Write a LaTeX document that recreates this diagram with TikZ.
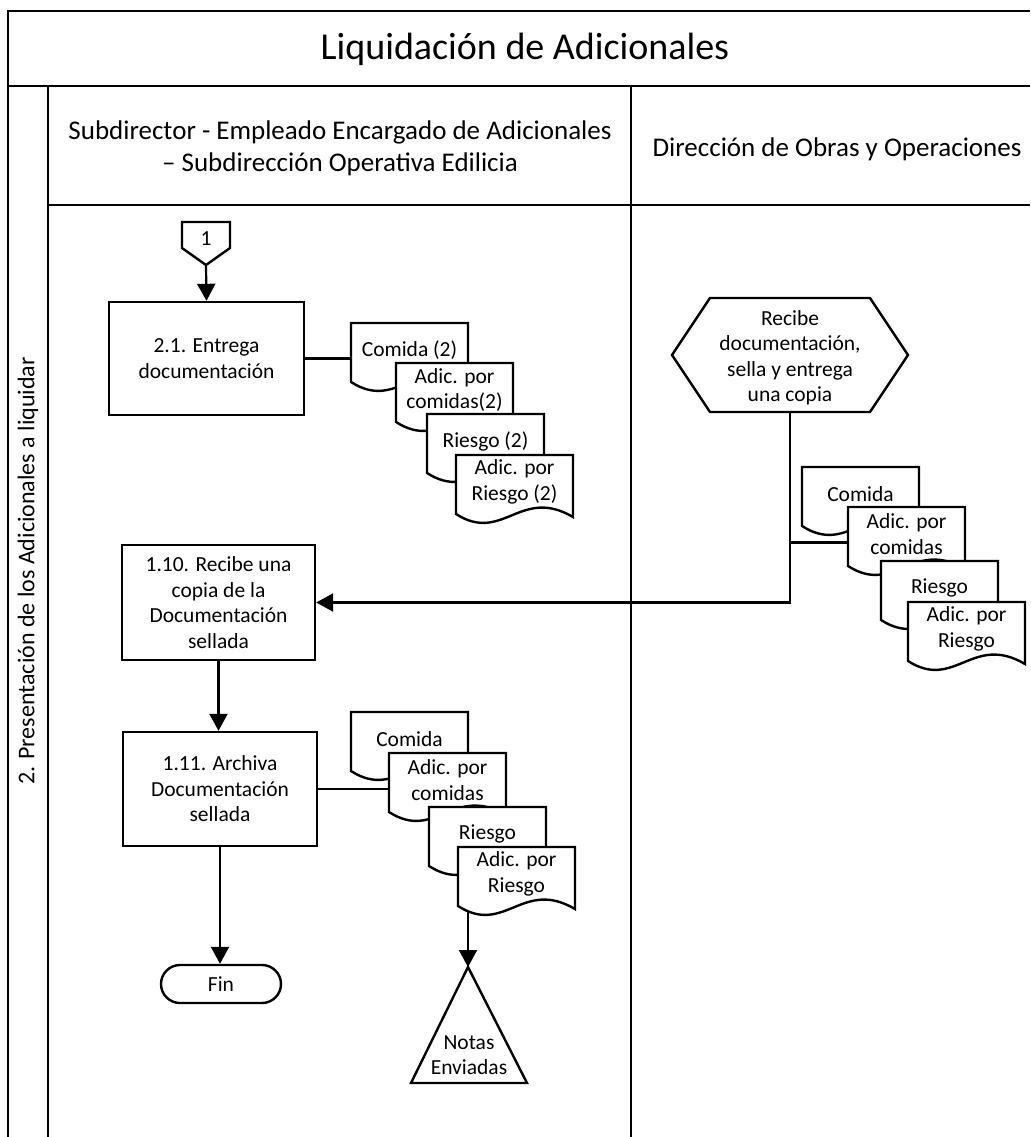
\documentclass[tikz,border=0pt]{standalone}
\usepackage{fontspec}
\setmainfont{Carlito}
\usetikzlibrary{arrows.meta,calc}
\pgfdeclarelayer{bg}
\pgfsetlayers{bg,main}

\tikzset{
  frame/.style={line width=2.6pt},
  shp/.style={draw, line width=2.4pt, fill=white},
  txt/.style={font=\fontsize{21.5}{25.5}\selectfont, align=center, inner sep=0pt},
  flow/.style={line width=2.2pt, -{Triangle[width=18pt,length=17pt]}},
  link/.style={line width=2.2pt},
  anchorbox/.style={inner sep=0pt, outer sep=0pt},
}

% document symbol: name, left x, top y, text
\newcommand{\flowdoc}[4]{%
  \node[anchorbox, minimum width=117pt, minimum height=59pt] (#1) at (#2+58.5,#3+29.5) {};
  \draw[shp] (#2,#3) -- (#2+117,#3) -- (#2+117,#3+62)
     .. controls (#2+64.35,#3+31) and (#2+46.8,#3+89) .. (#2,#3+59) -- cycle;
  \node[txt] (#1-t) at (#2+58.5,#3+27) {#4};
}

\begin{document}
\begin{tikzpicture}[x=1pt,y=-1pt]
\useasboundingbox (0,0) rectangle (1030,1137);

% titles
\node[txt, font=\fontsize{38}{42}\selectfont] (title) at (525,49) {Liquidación de Adicionales};
\node[txt, font=\fontsize{27}{32}\selectfont] (laneA) at (340,148)
  {Subdirector - Empleado Encargado de Adicionales\\– Subdirección Operativa Edilicia};
\node[txt, font=\fontsize{27}{32}\selectfont] (laneB) at (837,149) {Dirección de Obras y Operaciones};
\node[txt, font=\fontsize{24}{28}\selectfont, rotate=90] (pool) at (28,571)
  {2. Presentación de los Adicionales a liquidar};

% off-page connector
\node[anchorbox, minimum width=48pt, minimum height=43pt] (opc) at (206,243.5) {};
\draw[shp] (opc.north west) -- (opc.north east) -- ([yshift=17pt]opc.south east)
  -- (opc.south) -- ([yshift=17pt]opc.south west) -- cycle;
\node[txt] (opc-t) at (206,239) {1};

% process boxes
\node[shp, txt, minimum width=195pt, minimum height=113pt] (b21) at (206.5,358.5)
  {2.1. Entrega\\documentación};
\node[shp, txt, minimum width=193pt, minimum height=115pt] (b110) at (218.5,602.5)
  {1.10. Recibe una\\copia de la\\Documentación\\sellada};
\node[shp, txt, minimum width=194pt, minimum height=114pt] (b111) at (220,789)
  {1.11. Archiva\\Documentación\\sellada};
\node[shp, txt, rounded corners=19pt, minimum width=120pt, minimum height=38pt] (fin) at (221,984) {Fin};

% preparation (hexagon)
\node[anchorbox, minimum width=236pt, minimum height=114pt] (hex) at (790,355) {};
\draw[shp] (hex.west) -- ([xshift=38pt]hex.north west) -- ([xshift=-38pt]hex.north east)
  -- (hex.east) -- ([xshift=-38pt]hex.south east) -- ([xshift=38pt]hex.south west) -- cycle;
\node[txt] (hex-t) at (790,358) {Recibe\\documentación,\\sella y entrega\\una copia};

% documents delivered
\flowdoc{tl1}{351}{323}{Comida (2)}
\flowdoc{tl2}{396}{363}{Adic. por\\comidas(2)}
\flowdoc{tl3}{427}{414}{Riesgo (2)}
\flowdoc{tl4}{456}{455}{Adic. por\\Riesgo (2)}

% documents stamped
\flowdoc{rd1}{802}{467}{Comida}
\flowdoc{rd2}{848}{507}{Adic. por\\comidas}
\flowdoc{rd3}{881}{561}{Riesgo}
\flowdoc{rd4}{908}{602}{Adic. por\\Riesgo}

% documents filed
\flowdoc{ll1}{351}{712}{Comida}
\flowdoc{ll2}{389}{753}{Adic. por\\comidas}
\flowdoc{ll3}{429}{807}{Riesgo}
\flowdoc{ll4}{458}{847}{Adic. por\\Riesgo}

% archive (triangle)
\coordinate (tri) at (468,967);
\draw[shp] (tri) -- (527,1083) -- (411,1083) -- cycle;
\node[txt] (tri-t) at (469,1055) {Notas\\Enviadas};

\begin{pgfonlayer}{bg}
  \fill[white] (0,0) rectangle (1030,1137);
  % swimlane frame
  \draw[frame] (1030,11) -- (8,11) -- (8,1137);
  \draw[frame] (8,86) -- (1030,86);
  \draw[frame] (48,86) -- (48,1137);
  \draw[frame] (48,205) -- (1030,205);
  \draw[frame] (631,86) -- (631,1137);
  % connectors
  \draw[flow] (opc.south) -- (b21.north);
  \draw[link] (b21.east) -- (b21.east -| tl1.west);
  \draw[flow] (hex.south) |- (b110.east);
  \draw[link] ($(hex.south |- rd2.west)+(0,6)$) -- ($(rd2.west)+(0,6)$);
  \draw[flow] (b110.south) -- (b110.south |- b111.north);
  \draw[link] (b111.east) -- (b111.east -| ll2.west);
  \draw[flow] (b111.south) -- (b111.south |- fin.north);
  \draw[flow] (tri |- ll4.south) -- (tri);
\end{pgfonlayer}
\end{tikzpicture}
\end{document}
